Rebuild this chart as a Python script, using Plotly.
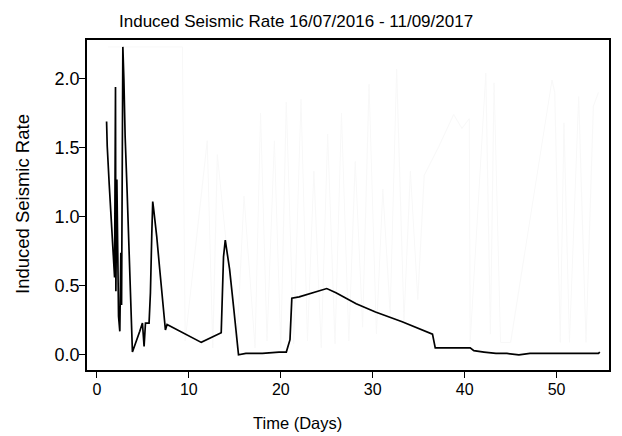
import plotly.graph_objects as go

# Induced seismic rate over time (days since start)
days = [1.05, 1.12, 1.34, 1.48, 1.70, 1.84, 1.92, 2.02, 2.06, 2.17, 2.35, 2.49, 2.60, 2.68,
        2.82, 2.93, 3.07, 3.29, 3.47, 3.65, 3.86, 4.66, 4.95, 5.13, 5.28, 5.67, 5.82, 5.97,
        6.07, 6.18, 6.36, 6.50, 6.83, 7.20, 7.45, 7.63, 11.35, 13.52, 13.77, 13.96, 14.13,
        14.43, 14.86, 15.40, 16.20, 18.00, 19.80, 20.60, 21.00, 21.20, 22.00, 23.50, 25.00,
        26.00, 28.20, 30.30, 33.20, 36.50, 36.80, 40.60, 41.00, 42.10, 43.40, 44.60, 45.90,
        47.10, 54.55, 54.70]
rate = [1.69, 1.51, 1.23, 1.06, 0.89, 0.71, 0.56, 1.94, 0.46, 1.27, 0.28, 0.17, 0.74, 0.36,
        2.23, 2.00, 1.58, 1.17, 0.75, 0.35, 0.02, 0.17, 0.23, 0.06, 0.23, 0.23, 0.45, 0.88,
        1.11, 1.05, 0.95, 0.86, 0.62, 0.37, 0.18, 0.22, 0.09, 0.16, 0.71, 0.83, 0.76,
        0.62, 0.35, 0.00, 0.01, 0.01, 0.02, 0.02, 0.11, 0.41, 0.42, 0.45, 0.48,
        0.45, 0.37, 0.31, 0.24, 0.15, 0.05, 0.05, 0.03, 0.02, 0.01, 0.01, 0.00,
        0.01, 0.01, 0.02]

# Faint background series
bg_days = [1.2, 9.3, 9.6, 12.0, 12.6, 13.1, 15.2, 16.0, 17.2, 17.8, 18.5, 19.3, 20.0, 20.6,
           21.4, 22.2, 22.9, 23.6, 24.4, 25.1, 25.9, 26.6, 27.4, 28.1, 28.9, 29.6, 30.4,
           31.1, 31.9, 32.6, 33.4, 34.1, 34.9, 35.6, 37.2, 38.8, 39.7, 40.5, 40.6, 42.3,
           42.8, 43.2, 43.9, 45.0, 49.5, 49.8, 50.4, 50.8, 51.4, 52.4, 53.2, 54.0, 54.55]
bg_rate = [2.23, 2.23, 0.10, 1.55, 0.05, 1.45, 0.05, 1.15, 0.05, 1.75, 0.10, 1.55, 0.05,
           1.83, 0.08, 1.85, 0.10, 1.33, 0.05, 1.60, 0.08, 1.75, 0.10, 1.40, 0.20, 1.96,
           0.15, 1.20, 0.30, 2.07, 0.25, 1.33, 0.40, 1.30, 1.51, 1.74, 1.64, 1.71, 0.09,
           2.04, 0.15, 1.97, 0.09, 0.09, 1.99, 1.90, 0.09, 1.68, 0.09, 1.87, 0.09, 1.80, 1.90]

x_ticks = [0, 10, 20, 30, 40, 50]
y_ticks = [0.0, 0.5, 1.0, 1.5, 2.0]
y_tick_text = ["0.0", "0.5", "1.0", "1.5", "2.0"]

font_family = "Liberation Sans, Arial, sans-serif"

fig = go.Figure()
fig.add_trace(go.Scatter(x=bg_days, y=bg_rate, mode="lines",
                         line=dict(color="#f8f8f8", width=1), hoverinfo="skip"))
fig.add_trace(go.Scatter(x=days, y=rate, mode="lines",
                         line=dict(color="black", width=1.7)))

axis_common = dict(showline=True, mirror=True, linecolor="black", linewidth=1.5,
                   ticks="outside", ticklen=6, tickwidth=1, tickcolor="black",
                   showgrid=False, zeroline=False)

fig.update_layout(
    width=622, height=436,
    margin=dict(l=87, r=11, t=40, b=66),
    paper_bgcolor="white", plot_bgcolor="white",
    showlegend=False,
    xaxis=dict(range=[-1.08, 55.7], tickvals=x_ticks, ticklabelstandoff=-2,
               tickfont=dict(family=font_family, size=16, color="black"), **axis_common),
    yaxis=dict(range=[-0.11, 2.28], tickvals=y_ticks, ticktext=y_tick_text,
               ticklabelstandoff=-4,
               tickfont=dict(family=font_family, size=18, color="black"), **axis_common),
    annotations=[
        dict(text="Induced Seismic Rate 16/07/2016 - 11/09/2017", xref="paper", yref="paper",
             x=0.400, y=1.0, yshift=18.5, xanchor="center", yanchor="middle", showarrow=False,
             font=dict(family=font_family, size=17, color="black")),
        dict(text="Time (Days)", xref="paper", yref="paper",
             x=0.403, y=0, yshift=-53, xanchor="center", yanchor="middle", showarrow=False,
             font=dict(family=font_family, size=16.5, color="black")),
        dict(text="Induced Seismic Rate", xref="paper", yref="paper", textangle=-90,
             x=0, xshift=-65, y=0.503, xanchor="center", yanchor="middle", showarrow=False,
             font=dict(family=font_family, size=18.5, color="black")),
    ],
)

fig.write_html("out.html")
